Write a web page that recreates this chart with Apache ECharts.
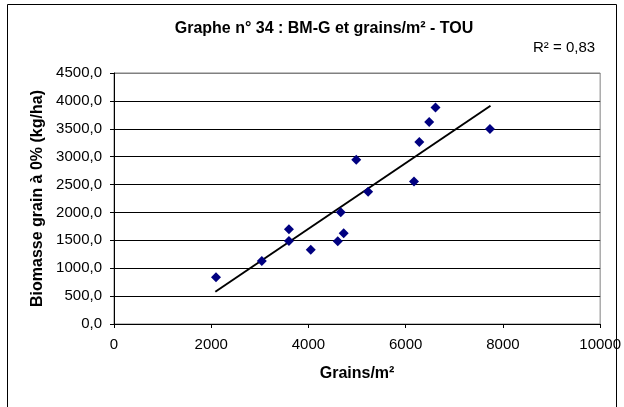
<!DOCTYPE html>
<html><head><meta charset="utf-8">
<script src="https://cdn.jsdelivr.net/npm/echarts@6/dist/echarts.min.js"></script>
<style>html,body{margin:0;padding:0;background:#fff}#c{width:624px;height:407px}</style>
</head><body><div id="c"></div>
<script>
const grainsX = [2098, 3041, 3599, 3599, 4047, 4603, 4725, 4664, 4983, 5228, 6171, 6280, 6483, 6613, 7733];
const biomasseY = [837, 1130, 1699, 1489, 1333, 1483, 1627, 2004, 2943, 2369, 2554, 3261, 3621, 3883, 3495];
const trendX = [2084, 7745];
const trendY = [578, 3913];
const xTicks = [0, 2000, 4000, 6000, 8000, 10000];
const yTicks = [0, 500, 1000, 1500, 2000, 2500, 3000, 3500, 4000, 4500];

const font = 'Liberation Sans, Arial, sans-serif';
const chart = echarts.init(document.getElementById('c'));
chart.setOption({
  animation: false,
  backgroundColor: '#fff',
  title: { text: 'Graphe n° 34 : BM-G et grains/m² - TOU', left: 319, top: 16, textAlign: 'center',
    textStyle: { fontFamily: font, fontSize: 16, fontWeight: 'bold', color: '#000' } },
  graphic: [
    { type: 'rect', shape: { x: 7.5, y: 4.5, width: 609, height: 410 }, style: { fill: 'none', stroke: '#000', lineWidth: 1 } },
    { type: 'text', left: 533, top: 40, style: { text: 'R² = 0,83', fontFamily: font, fontSize: 15, fill: '#000' } }
  ],
  grid: { left: 114, right: 22, top: 73, bottom: 83, show: true, borderColor: '#808080', borderWidth: 1 },
  xAxis: {
    type: 'value', min: 0, max: 10000, interval: 2000,
    name: 'Grains/m²', nameLocation: 'middle', nameGap: 42,
    nameTextStyle: { fontFamily: font, fontSize: 16, fontWeight: 'bold', color: '#000' },
    axisLine: { show: true, lineStyle: { color: '#000' } },
    axisTick: { show: true, length: 4, lineStyle: { color: '#000' } },
    axisLabel: { fontFamily: font, fontSize: 15, color: '#000', margin: 13,
      formatter: v => xTicks.includes(v) ? String(v) : '' },
    splitLine: { show: false }
  },
  yAxis: {
    type: 'value', min: 0, max: 4500, interval: 500,
    name: 'Biomasse grain à 0% (kg/ha)', nameLocation: 'middle', nameGap: 67,
    nameTextStyle: { fontFamily: font, fontSize: 16, fontWeight: 'bold', color: '#000' },
    axisLine: { show: true, lineStyle: { color: '#000' } },
    axisTick: { show: true, length: 4, lineStyle: { color: '#000' } },
    axisLabel: { fontFamily: font, fontSize: 15, color: '#000', margin: 12,
      formatter: v => yTicks.includes(v) ? v.toFixed(1).replace('.', ',') : '' },
    splitLine: { show: true, lineStyle: { width: 1,
      color: ['#000', '#000', '#000', '#000', '#000', '#000', '#000', '#000', '#000', '#808080'] } }
  },
  series: [
    { type: 'line', data: trendX.map((x, i) => [x, trendY[i]]), symbol: 'none',
      lineStyle: { color: '#000', width: 2 }, z: 3 },
    { type: 'scatter', data: grainsX.map((x, i) => [x, biomasseY[i]]), symbol: 'diamond', symbolSize: [10, 10],
      itemStyle: { color: '#000080', opacity: 1 }, z: 4 }
  ]
});
</script></body></html>
